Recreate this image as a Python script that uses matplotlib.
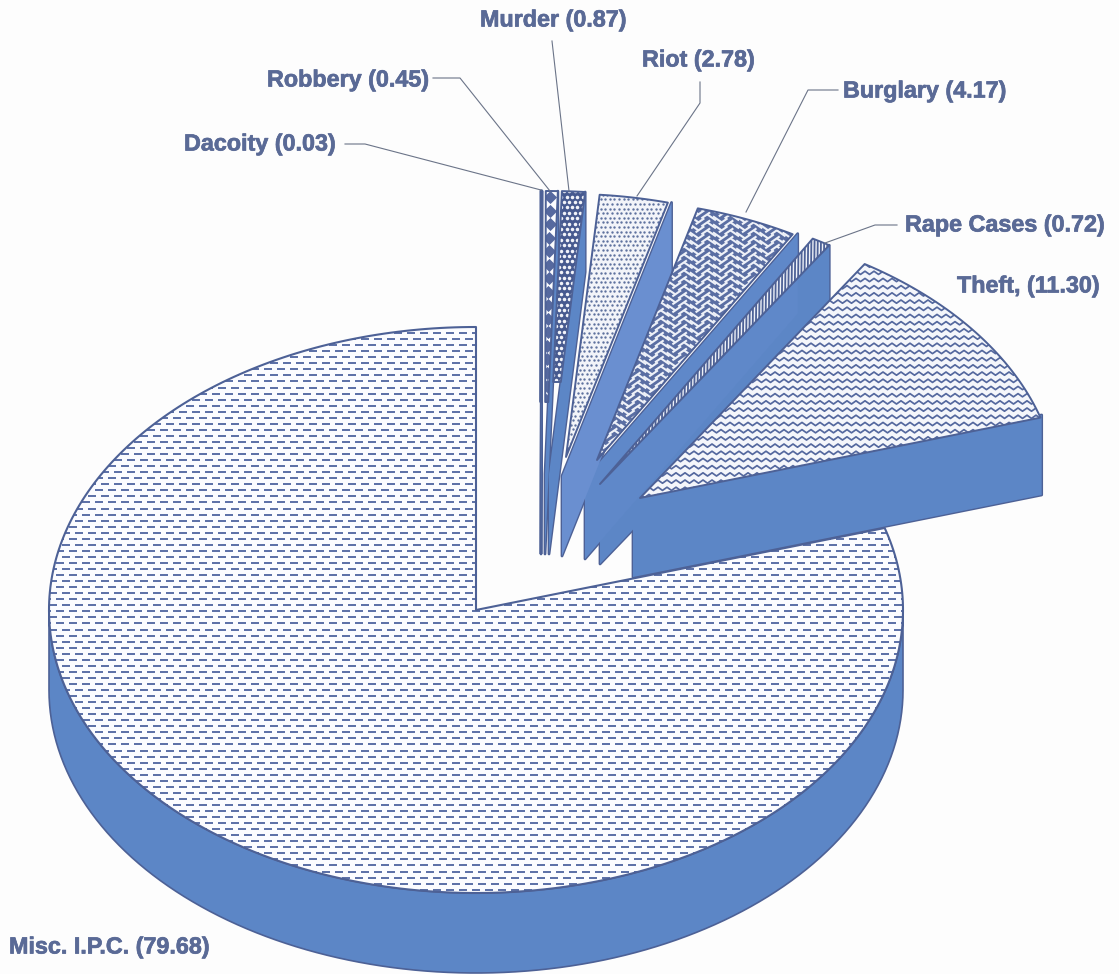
import numpy as np
import matplotlib
matplotlib.use("Agg")
import matplotlib.pyplot as plt
import matplotlib.patheffects as pe
from matplotlib.patches import Polygon
from matplotlib.collections import LineCollection

# === DATA ===
names = ["Dacoity", "Robbery", "Murder", "Riot", "Burglary", "Rape Cases", "Theft", "Misc. I.P.C."]
values = [0.03, 0.45, 0.87, 2.78, 4.17, 0.72, 11.30, 79.68]
label_texts = ["Dacoity (0.03)", "Robbery (0.45)", "Murder (0.87)", "Riot (2.78)",
               "Burglary (4.17)", "Rape Cases (0.72)", "Theft, (11.30)", "Misc. I.P.C. (79.68)"]

# === LAYOUT (pixels of the picture) ===
RX, RY, DEPTH = 427, 283, 80
apex = [(541, 474), (545, 474), (549, 474), (562, 476), (585, 479), (600, 484), (633, 497), (476, 610)]
# where the visible top face starts, its size, and where it stops short of the apex
face_apex = [(541, 474), (545, 474), (549, 474), (566, 457), (597, 460), (600, 484), (640, 498)]
face_scale = [1.0, 1.0, 1.0, 0.93, 0.92, 1.0, 0.98]
face_cut = [402, 402, 382, None, None, None, None]
label_xy = [(184, 144), (267, 80), (480, 20), (642, 60), (843, 91), (905, 225), (957, 286), (9, 947)]
leaders = [[(345, 144), (365, 144), (541, 190)],
           [(433, 78), (460, 78), (550, 191)],
           [(552, 41), (569, 191)],
           [(700, 82), (700, 103), (637, 196)],
           [(838, 90), (808, 90), (746, 212)],
           [(897, 225), (875, 225), (825, 243)]]

EDGE = "#4d6196"
WALL = "#5c86c6"
TXT = "#5a6a96"
BG = "#fdfdfd"

fig = plt.figure(figsize=(11.19, 9.74), dpi=100, facecolor=BG)
ax = fig.add_axes([0, 0, 1, 1])
ax.set_xlim(0, 1119)
ax.set_ylim(974, 0)
ax.axis("off")

z = [1]


def nextz():
    z[0] += 1
    return z[0]


def arc(c, t0, t1, n=120, k=1.0):
    t = np.radians(np.linspace(t0, t1, n))
    return np.column_stack([c[0] + k * RX * np.sin(t), c[1] - k * RY * np.cos(t)])


def add_poly(pts, fc, ec="none", lw=0.0):
    p = Polygon(pts, closed=True, facecolor=fc, edgecolor=ec, linewidth=lw, joinstyle="round", zorder=nextz())
    ax.add_patch(p)
    return p


def add_lines(segs, clip, color, lw):
    lc = LineCollection(segs, colors=color, linewidths=lw, capstyle="butt", zorder=nextz())
    ax.add_collection(lc)
    lc.set_clip_path(clip)


def extent(pts):
    return pts[:, 0].min(), pts[:, 0].max(), pts[:, 1].min(), pts[:, 1].max()


# --- fill patterns, drawn as lines/dots clipped to the slice ---
def fill_dashes(clip, pts):
    x0, x1, y0, y1 = extent(pts)
    segs = []
    for i, y in enumerate(np.arange(y0, y1, 6.05)):
        shift = 6.5 * (i % 2)
        for x in np.arange(x0 - 13 + shift, x1, 13):
            segs.append([(x, y), (x + 8, y)])
    add_lines(segs, clip, "#5a6fa6", 1.4)


def fill_wave(clip, pts):
    x0, x1, y0, y1 = extent(pts)
    xs = np.arange(x0 - 9, x1 + 9, 4.5)
    segs = []
    for y in np.arange(y0, y1 + 8, 7.2):
        ys = y + 3.2 * (np.arange(len(xs)) % 2)
        segs.append(np.column_stack([xs, ys]))
    add_lines(segs, clip, "#54689e", 1.25)


def fill_dots(clip, pts, color, step, size):
    x0, x1, y0, y1 = extent(pts)
    px, py = [], []
    for i, y in enumerate(np.arange(y0, y1, step)):
        for x in np.arange(x0 + (step * 0.5) * (i % 2), x1, step):
            px.append(x)
            py.append(y)
    s = ax.scatter(px, py, s=size, c=color, linewidths=0, zorder=nextz())
    s.set_clip_path(clip)


def fill_herring(clip, pts):
    x0, x1, y0, y1 = extent(pts)
    segs = []
    w, h = 5.8, 4.0
    for c, x in enumerate(np.arange(x0 - w, x1 + w, w)):
        for r, y in enumerate(np.arange(y0 - 10, y1 + 10, 2 * h)):
            yy = y + (c % 4) * h * 0.5
            if (c // 2) % 2 == 0:
                segs.append([(x, yy), (x + w * 1.5, yy + h * 1.5)])
            else:
                segs.append([(x, yy + h * 1.5), (x + w * 1.5, yy)])
    add_lines(segs, clip, "#eef1f8", 1.5)


def fill_diamonds(clip, pts):
    x0, x1, y0, y1 = extent(pts)
    ys = np.arange(y0 + 6, y1, 13.5)
    xs = x0 + 5 - 4 * (ys - y0) / (y1 - y0)
    s = ax.scatter(xs, ys, s=45, c="#56699f", marker="D", linewidths=0, zorder=nextz())
    s.set_clip_path(clip)


def fill_stripes(clip, pts):
    x0, x1, y0, y1 = extent(pts)
    segs = [[(x, y0), (x - 3, y1)] for x in np.arange(x0 - 3, x1 + 3, 3.2)]
    add_lines(segs, clip, "#4d6196", 1.3)


# === SLICES ===
ends = np.cumsum(values) / np.sum(values) * 360.0
starts = np.concatenate([[0.0], ends[:-1]])

# Misc first: outer wall then the big top face
misc = 7
c = apex[misc]
upper = arc(c, 90, 270)
wall_pts = np.vstack([upper, (upper + [0, DEPTH])[::-1]])
add_poly(wall_pts, WALL, EDGE, 1.2)
misc_pts = np.vstack([[c], arc(c, starts[misc], ends[misc], 300)])
p = add_poly(misc_pts, "#fbfcff")
fill_dashes(p, misc_pts)
add_poly(misc_pts, "none", EDGE, 1.5)

face_bg = {"Theft": "#f4f6fb", "Rape Cases": "#eef1f8", "Burglary": "#5a6ea3",
           "Riot": "#f2f4f9", "Murder": "#46598f", "Robbery": "#fbfcff", "Dacoity": "#5c86c6"}
wall_col = {"Riot": "#6a8fd0", "Burglary": "#5f88c9"}

# radial side walls: outlines first, then fills again so the walls merge into one blue mass
sides = []
for i in [6, 5, 4, 3, 2, 1, 0]:
    c = apex[i]
    outer = arc(c, ends[i], ends[i], 1)[0]
    side = np.array([c, outer, outer + [0, DEPTH], np.array(c) + [0, DEPTH]], dtype=float)
    sides.append((i, side))
    add_poly(side, WALL, EDGE, 2.0)
for i, side in sides:
    add_poly(side, wall_col.get(names[i], WALL))

# top faces sit over the walls
for i in [6, 5, 4, 3, 2, 1, 0]:
    c = face_apex[i]
    rim = arc(c, starts[i], ends[i], 40, face_scale[i])
    if face_cut[i] is None:
        pts = np.vstack([[c], rim])
    else:
        f = (c[1] - face_cut[i]) / (c[1] - rim[:, 1])
        left = np.array(c) + (rim[0] - c) * f[0]
        right = np.array(c) + (rim[-1] - c) * f[-1]
        pts = np.vstack([[left], rim, [right]])
    p = add_poly(pts, face_bg[names[i]])
    if names[i] == "Theft":
        fill_wave(p, pts)
    elif names[i] == "Rape Cases":
        fill_stripes(p, pts)
    elif names[i] == "Burglary":
        fill_herring(p, pts)
    elif names[i] == "Riot":
        fill_dots(p, pts, "#5f729f", 4.6, 3.0)
    elif names[i] == "Murder":
        fill_dots(p, pts, "#f1f3f9", 5.4, 6.5)
    elif names[i] == "Robbery":
        fill_diamonds(p, pts)
    add_poly(pts, "none", EDGE, 2.2 if i == 0 else 1.4)

# === LEADERS AND LABELS ===
for pts in leaders:
    xs, ys = zip(*pts)
    ax.plot(xs, ys, color="#6b7488", lw=0.8, zorder=nextz())

for txt, (x, y) in zip(label_texts, label_xy):
    t = ax.text(x, y, txt, ha="left", va="center", color=TXT, fontsize=16.8, fontweight="bold",
                family="Liberation Sans", zorder=nextz())
    t.set_path_effects([pe.withStroke(linewidth=0.5, foreground=TXT)])

fig.savefig("out.png", dpi=100, facecolor=BG)
